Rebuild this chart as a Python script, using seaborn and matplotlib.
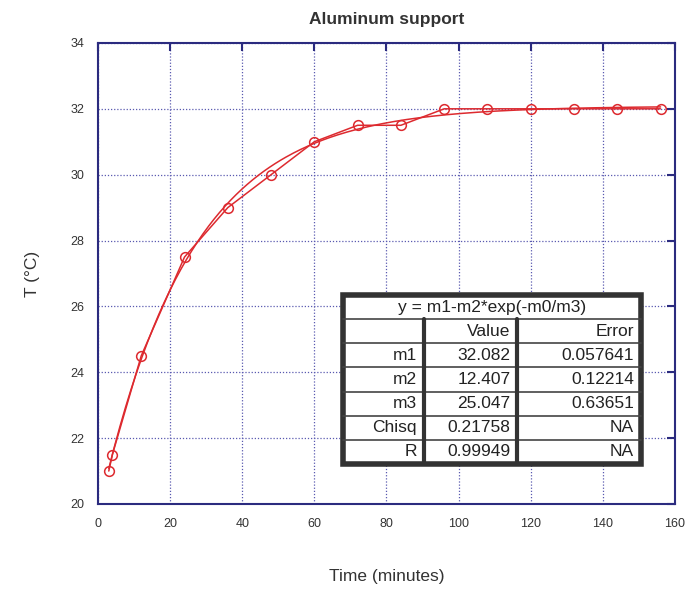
import numpy as np
import pandas as pd
import seaborn as sns
import matplotlib.pyplot as plt

# measured points
time_min = [3, 4, 12, 24, 36, 48, 60, 72, 84, 96, 108, 120, 132, 144, 156]
temp_c = [21.0, 21.5, 24.5, 27.5, 29.0, 30.0, 31.0, 31.5, 31.5, 32.0, 32.0, 32.0, 32.0, 32.0, 32.0]

# fit parameters as printed in the box
fit_names = ["m1", "m2", "m3", "Chisq", "R"]
fit_values = ["32.082", "12.407", "25.047", "0.21758", "0.99949"]
fit_errors = ["0.057641", "0.12214", "0.63651", "NA", "NA"]
m1, m2, m3 = 32.082, 12.407, 25.047

df = pd.DataFrame({"t": time_min, "T": temp_c})
t_fit = np.linspace(min(time_min), max(time_min), 300)
fit_df = pd.DataFrame({"t": t_fit, "T": m1 - m2 * np.exp(-t_fit / m3)})

sns.set_style("white")
plt.rcParams['font.family'] = ['Liberation Sans', 'DejaVu Sans']

red = '#dd2a2f'
navy = '#2b2b7f'

fig = plt.figure(figsize=(6.88, 5.9), dpi=100)
ax = fig.add_axes([0.1424, 0.1458, 0.8387, 0.7814])

sns.lineplot(data=fit_df, x="t", y="T", ax=ax, color=red, lw=1.1)
sns.lineplot(data=df, x="t", y="T", ax=ax, color=red, lw=1.1, marker='o',
             markersize=7, markerfacecolor='none', markeredgecolor=red, markeredgewidth=1.1)

ax.set_xlim(0, 160)
ax.set_ylim(20, 34)
ax.set_xticks(range(0, 161, 20))
ax.set_yticks(range(20, 35, 2))
ax.grid(True, ls=(0, (1, 1.5)), color='#5a5ab0', lw=0.9)
for s in ax.spines.values():
    s.set_color(navy)
    s.set_linewidth(1.5)
ax.tick_params(direction='in', length=6, width=1.5, color=navy, top=True, right=True,
               labelsize=9, labelcolor='#333333', pad=10)

ax.set_title("Aluminum support", fontsize=12.5, fontweight='bold', color='#333333', pad=14)
ax.set_xlabel("Time (minutes)", fontsize=12.5, color='#333333', labelpad=28)
ax.set_ylabel("T (°C)", fontsize=12.5, color='#333333', labelpad=22)

# results box (axes fraction coords)
x0, x1 = 0.4246, 0.941
yt, yb = 0.4534, 0.0868
cx = [x0, 0.5650, 0.7265, x1]
nrows = 7
rh = (yt - yb) / nrows
ax.add_patch(plt.Rectangle((x0, yb), x1 - x0, yt - yb, transform=ax.transAxes,
                           facecolor='white', edgecolor='#333333', lw=4, zorder=5))
for i in range(1, nrows):
    y = yt - i * rh
    ax.plot([x0, x1], [y, y], transform=ax.transAxes, color='#444444', lw=1.2, zorder=6)
for c in cx[1:3]:
    ax.plot([c, c], [yb, yt - rh], transform=ax.transAxes, color='#333333', lw=3, zorder=6)

tk = dict(transform=ax.transAxes, fontsize=12.5, color='#222222', va='center', zorder=7)
ax.text((x0 + x1) / 2, yt - rh / 2, "y = m1-m2*exp(-m0/m3)", ha='center', **tk)
pad = 0.012
ax.text(cx[2] - pad, yt - 1.5 * rh, "Value", ha='right', **tk)
ax.text(cx[3] - pad, yt - 1.5 * rh, "Error", ha='right', **tk)
for i, (n, v, e) in enumerate(zip(fit_names, fit_values, fit_errors)):
    y = yt - (i + 2.5) * rh
    ax.text(cx[1] - pad, y, n, ha='right', **tk)
    ax.text(cx[2] - pad, y, v, ha='right', **tk)
    ax.text(cx[3] - pad, y, e, ha='right', **tk)

fig.savefig("out.png", dpi=100)
